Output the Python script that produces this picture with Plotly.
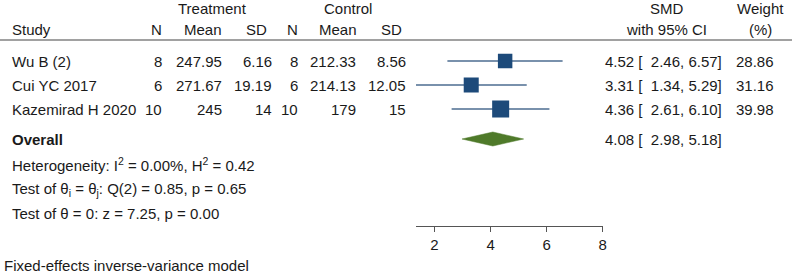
import plotly.graph_objects as go

# ---------------- data ----------------
studies = ["Wu B (2)", "Cui YC 2017", "Kazemirad H 2020"]
t_n = [8, 6, 10]
t_mean = ["247.95", "271.67", "245"]
t_sd = ["6.16", "19.19", "14"]
c_n = [8, 6, 10]
c_mean = ["212.33", "214.13", "179"]
c_sd = ["8.56", "12.05", "15"]
smd = [4.52, 3.31, 4.36]
ci_lo = [2.46, 1.34, 2.61]
ci_hi = [6.57, 5.29, 6.10]
weight = [28.86, 31.16, 39.98]
overall = 4.08
overall_lo = 2.98
overall_hi = 5.18
axis_ticks = [2, 4, 6, 8]
stats_lines = [
    "Heterogeneity: I<sup>2</sup> = 0.00%, H<sup>2</sup> = 0.42",
    "Test of θ<sub>i</sub> = θ<sub>j</sub>: Q(2) = 0.85, p = 0.65",
    "Test of θ = 0: z = 7.25, p = 0.00",
]
footnote = "Fixed-effects inverse-variance model"

# ---------------- layout constants ----------------
W, H = 796, 273
FONT = "Liberation Sans, Arial, sans-serif"
FS = 15
TXT = "#1a1a1a"
SQ_COL = "#1d4a7a"
LN_COL = "#4d6d90"
DIA_COL = "#4f7a2a"

px2 = 436.7      # pixel of x=2
ppu = 28.17      # pixels per unit
ax_min = min(ci_lo)
ax_max = 8
def px(v):
    return px2 + (v - 2) * ppu

row_y = [61, 85, 109]
overall_y = 139
stat_y = [164, 189, 213]

fig = go.Figure()

# CI lines and squares
for i in range(len(studies)):
    fig.add_trace(go.Scatter(x=[ci_lo[i], ci_hi[i]], y=[row_y[i], row_y[i]],
                             mode="lines", line=dict(color=LN_COL, width=1.6),
                             xaxis="x2", yaxis="y", hoverinfo="skip", showlegend=False))
sizes = [2.69 * w ** 0.5 for w in weight]
fig.add_trace(go.Scatter(x=smd, y=row_y, mode="markers",
                         marker=dict(symbol="square", size=sizes, color=SQ_COL,
                                     opacity=1, line=dict(width=0)),
                         xaxis="x2", yaxis="y", showlegend=False))

# overall diamond
fig.add_trace(go.Scatter(x=[overall_lo, overall, overall_hi, overall, overall_lo],
                         y=[overall_y, overall_y - 7, overall_y, overall_y + 7, overall_y],
                         mode="lines", fill="toself", fillcolor=DIA_COL,
                         line=dict(color=DIA_COL, width=0.5),
                         xaxis="x2", yaxis="y", showlegend=False))

ann = []
def t(x, y, text, anchor="left", bold=False):
    if bold:
        text = "<b>" + text + "</b>"
    ann.append(dict(x=x / W, y=y, xref="paper", yref="y", text=text, showarrow=False,
                    xanchor=anchor, yanchor="middle",
                    font=dict(family=FONT, size=FS, color=TXT)))

# headers
t(214, 8, "Treatment", "center")
t(350, 8, "Control", "center")
t(670, 8, "SMD", "center")
t(764, 8, "Weight", "center")
t(10, 29, "Study")
t(165, 29, "N", "right")
t(204, 29, "Mean", "center")
t(258, 29, "SD", "center")
t(302, 29, "N", "right")
t(340, 29, "Mean", "center")
t(393, 29, "SD", "center")
t(670, 29, "with 95% CI", "center")
t(764, 29, "(%)", "center")

for i, s in enumerate(studies):
    y = row_y[i]
    t(10, y, s)
    t(165, y, str(t_n[i]), "right")
    t(225, y, t_mean[i], "right")
    t(275, y, t_sd[i], "right")
    t(302, y, str(c_n[i]), "right")
    t(360, y, c_mean[i], "right")
    t(410, y, c_sd[i], "right")
    t(606, y, f"{smd[i]:.2f} [  {ci_lo[i]:.2f}, {ci_hi[i]:.2f}]")
    t(780, y, f"{weight[i]:.2f}", "right")

t(10, overall_y, "Overall", bold=True)
t(606, overall_y, f"{overall:.2f} [  {overall_lo:.2f}, {overall_hi:.2f}]")
for y, s in zip(stat_y, stats_lines):
    t(10, y, s)
t(2, 265, footnote)

shapes = [dict(type="line", xref="paper", yref="y", x0=0, x1=1, y0=40, y1=40,
               line=dict(color="#444444", width=1.2))]

fig.update_layout(
    width=W, height=H, margin=dict(l=0, r=0, t=0, b=0),
    paper_bgcolor="white", plot_bgcolor="rgba(0,0,0,0)",
    annotations=ann, shapes=shapes, hovermode=False,
    xaxis=dict(visible=False, range=[0, 1], domain=[0, 1]),
    xaxis2=dict(range=[ax_min, ax_max], domain=[px(ax_min) / W, px(ax_max) / W],
                anchor="free", position=(H - 226) / H,
                showline=True, linecolor="#555555", linewidth=1.2,
                ticks="outside", ticklen=5, tickcolor="#555555", tickwidth=1.2,
                tickvals=axis_ticks, showgrid=False, zeroline=False,
                tickfont=dict(family=FONT, size=FS, color=TXT)),
    yaxis=dict(range=[H, 0], domain=[0, 1], visible=False, fixedrange=True),
)

fig.write_html("out.html", config={"displayModeBar": False, "staticPlot": True},
               post_script="document.body.style.margin='0';document.body.style.overflow='hidden';")
